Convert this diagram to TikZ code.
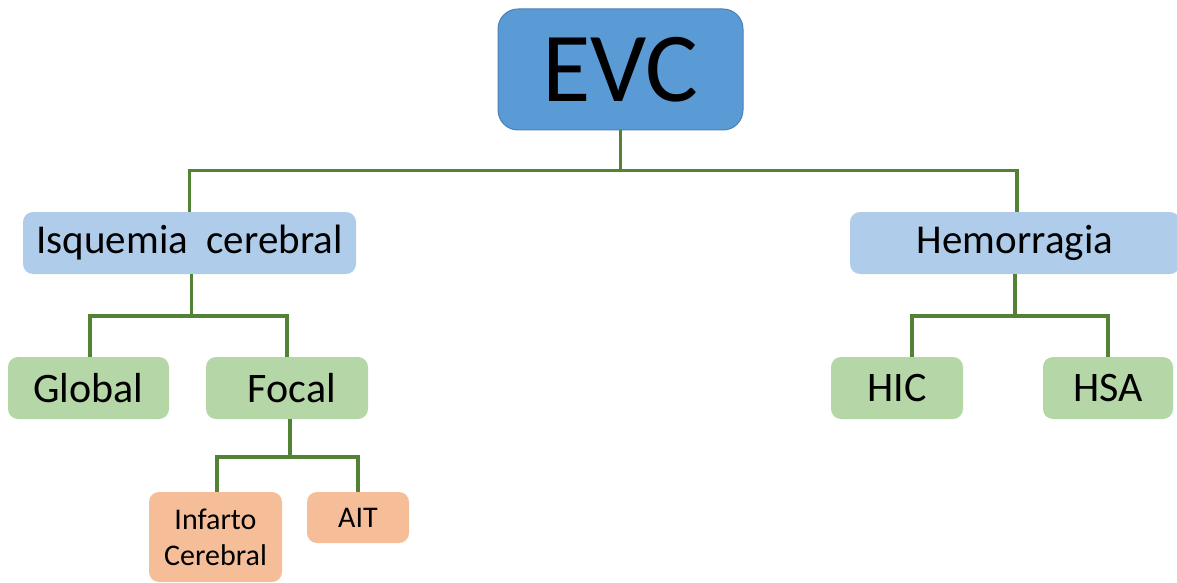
\documentclass[tikz,border=0pt]{standalone}
\usepackage{fontspec}
\setmainfont{Carlito}
\definecolor{evcblue}{HTML}{5B9BD5}
\definecolor{evcborder}{HTML}{4A80B5}
\definecolor{lblue}{HTML}{AFCCEA}
\definecolor{lgreen}{HTML}{B5D6A6}
\definecolor{lorange}{HTML}{F5BE99}
\definecolor{lgreenline}{HTML}{548235}
\begin{document}
\begin{tikzpicture}[x=1pt,y=-1pt,
  box/.style={rounded corners=10pt, inner sep=0pt, align=center, text=black},
  conn/.style={draw=lgreenline, line width=3.5pt},
  lvlone/.style={box, fill=lblue, minimum height=62pt, font=\fontsize{41}{44}\selectfont},
  lvltwo/.style={box, fill=lgreen, minimum height=62pt, font=\fontsize{42}{44}\selectfont},
  lvlthree/.style={box, fill=lorange, font=\fontsize{30}{36}\selectfont}]
\useasboundingbox (0,0) rectangle (1177,583);
\begin{scope}
\clip (0,0) rectangle (1177,583);
\node[box, fill=evcblue, draw=evcborder, line width=1pt, rounded corners=20pt,
  minimum width=245pt, minimum height=121pt, font=\fontsize{99}{100}\selectfont] (evc) at (620.5,69.5) {EVC};
\node[lvlone, minimum width=333pt] (isq) at (189.5,243) {Isquemia\ \ cerebral};
\node[lvlone, minimum width=330pt] (hem) at (1015,243) {Hemorragia};
\node[lvltwo, minimum width=161pt] (glob) at (88.5,388) {Global};
\node[lvltwo, minimum width=162pt] (foc) at (287,388) {\ Focal};
\node[lvltwo, minimum width=132pt] (hic) at (897,388) {HIC};
\node[lvltwo, minimum width=130pt] (hsa) at (1108,388) {HSA};
\node[lvlthree, minimum width=133pt, minimum height=90pt] (inf) at (215.5,537) {Infarto\\Cerebral};
\node[lvlthree, minimum width=102pt, minimum height=51pt] (ait) at (358,517.5) {AIT};
\end{scope}
\draw[conn] (evc.south) -- ++(0,40) coordinate (j1);
\draw[conn] (j1) -| (isq.north);
\draw[conn] (j1) -| ([xshift=2pt]hem.north);
\draw[conn] ([xshift=2pt]isq.south) -- ++(0,42) coordinate (j2);
\draw[conn] (j2) -| ([xshift=1.5pt]glob.north);
\draw[conn] (j2) -| (foc.north);
\draw[conn] (hem.south) -- ++(0,42) coordinate (j3);
\draw[conn] (j3) -| ([xshift=15pt]hic.north);
\draw[conn] (j3) -| (hsa.north);
\draw[conn] ([xshift=3pt]foc.south) -- ++(0,38) coordinate (j4);
\draw[conn] (j4) -| ([xshift=1.5pt]inf.north);
\draw[conn] (j4) -| (ait.north);
\end{tikzpicture}
\end{document}
